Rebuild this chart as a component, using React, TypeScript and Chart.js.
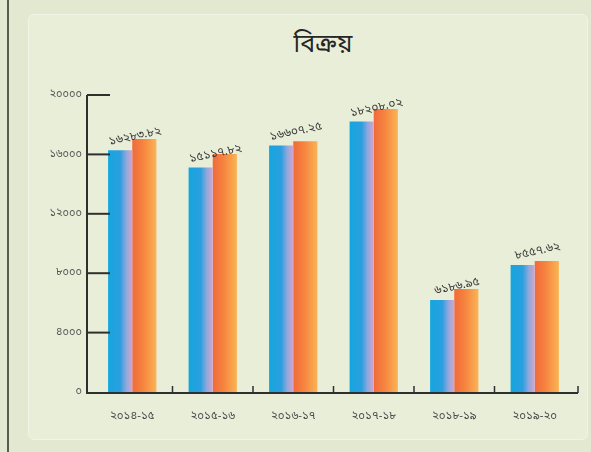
import React, { useEffect, useRef } from "react";
import { Chart, registerables } from "chart.js";

Chart.register(...registerables);

const categories = ["২০১৪-১৫", "২০১৫-১৬", "২০১৬-১৭", "২০১৭-১৮", "২০১৮-১৯", "২০১৯-২০"];
const salesValues = [16283.82, 15117.82, 16607.25, 18208.02, 6186.95, 8557.62];
const accentValues = [17030, 16020, 16890, 19050, 6930, 8820];
const yMax = 20000;
const yStep = 4000;
const titleText = "বিক্রয়";

const bnDigits = "০১২৩৪৫৬৭৮৯";
const toBn = (s: string | number) => String(s).replace(/\d/g, (d) => bnDigits[+d]);

const FONT = "'Noto Sans Bengali', 'Noto Sans', 'Noto Sans CJK SC', sans-serif";
const CAT_PCT = 0.6;

function barGradient(ctx: any, which: number) {
  const chart = ctx.chart;
  const xs = chart.scales.x;
  if (!xs || xs.width === undefined || !chart.chartArea) return which === 0 ? "#1ba3dc" : "#f6823e";
  const c = xs.getPixelForValue(ctx.dataIndex);
  const catW = xs.width / categories.length;
  const half = (catW * CAT_PCT) / 2;
  const x0 = which === 0 ? c - half : c;
  const x1 = which === 0 ? c : c + half;
  const g = chart.ctx.createLinearGradient(x0, 0, x1, 0);
  if (which === 0) {
    g.addColorStop(0, "#14a6de");
    g.addColorStop(0.5, "#2b9fe0");
    g.addColorStop(0.75, "#8fa8dc");
    g.addColorStop(1, "#d2a5cf");
  } else {
    g.addColorStop(0, "#f06a3a");
    g.addColorStop(0.45, "#f6843f");
    g.addColorStop(1, "#fab455");
  }
  return g;
}

const axisPlugin = {
  id: "customAxes",
  afterDatasetsDraw(chart: any) {
    const { ctx, chartArea, scales } = chart;
    const xs = scales.x;
    const ys = scales.y;
    const axisX = chartArea.left - 5;
    const axisY = ys.getPixelForValue(0);
    ctx.save();
    ctx.strokeStyle = "#2f2f2f";
    ctx.lineWidth = 2;
    ctx.beginPath();
    ctx.moveTo(axisX, ys.getPixelForValue(yMax));
    ctx.lineTo(axisX, axisY + 1);
    ctx.lineTo(chartArea.right + 3, axisY + 1);
    ctx.stroke();
    for (let v = yStep; v <= yMax; v += yStep) {
      const py = ys.getPixelForValue(v);
      ctx.beginPath();
      ctx.moveTo(axisX, py);
      ctx.lineTo(axisX + 23, py);
      ctx.stroke();
    }
    ctx.lineWidth = 1.5;
    for (let i = 0; i < categories.length; i++) {
      const a = xs.getPixelForValue(i);
      const b = i + 1 < categories.length ? xs.getPixelForValue(i + 1) : chartArea.right + 3;
      const px = i + 1 < categories.length ? (a + b) / 2 : b;
      ctx.beginPath();
      ctx.moveTo(px, axisY + 1);
      ctx.lineTo(px, axisY - 6);
      ctx.stroke();
    }
    const meta = chart.getDatasetMeta(0);
    ctx.fillStyle = "#3a3a3a";
    ctx.font = `12px ${FONT}`;
    ctx.textAlign = "center";
    ctx.textBaseline = "middle";
    meta.data.forEach((el: any, i: number) => {
      const cx = xs.getPixelForValue(i) + 3;
      const cy = el.y - 13;
      ctx.save();
      ctx.translate(cx, cy);
      ctx.rotate(-0.21);
      ctx.fillText(toBn(salesValues[i].toFixed(2)), 0, 0);
      ctx.restore();
    });
    ctx.restore();
  },
};

export default function App() {
  const ref = useRef<HTMLCanvasElement | null>(null);
  useEffect(() => {
    if (!ref.current) return;
    const chart = new Chart(ref.current, {
      type: "bar",
      data: {
        labels: categories,
        datasets: [
          {
            label: "বিক্রয়",
            data: salesValues,
            backgroundColor: (c: any) => barGradient(c, 0),
            categoryPercentage: CAT_PCT,
            barPercentage: 1,
            borderWidth: 0,
          },
          {
            label: "বিক্রয় ২",
            data: accentValues,
            backgroundColor: (c: any) => barGradient(c, 1),
            categoryPercentage: CAT_PCT,
            barPercentage: 1,
            borderWidth: 0,
          },
        ],
      },
      options: {
        animation: false,
        responsive: false,
        layout: { padding: { top: 95, right: 16, left: 0, bottom: 0 } },
        plugins: {
          legend: { display: false },
          title: { display: false },
          tooltip: { enabled: false },
        },
        scales: {
          x: {
            grid: { display: false, drawTicks: false },
            border: { display: false },
            ticks: {
              color: "#4a4a4a",
              font: { family: FONT, size: 11.5 },
              padding: 18,
              maxRotation: 0,
              autoSkip: false,
            },
            afterFit: (s: any) => {
              s.height = 60;
            },
          },
          y: {
            min: 0,
            max: yMax,
            grid: { display: false, drawTicks: false },
            border: { display: false },
            ticks: {
              stepSize: yStep,
              color: "#555",
              font: { family: FONT, size: 11 },
              padding: 10,
              callback: (v: any) => toBn(v),
            },
            afterFit: (s: any) => {
              s.width = 92;
            },
          },
        },
      },
      plugins: [axisPlugin],
    });
    return () => chart.destroy();
  }, []);

  return (
    <div
      style={{
        position: "absolute",
        left: 0,
        top: 0,
        width: 591,
        height: 452,
        background: "#e3e9d1",
        overflow: "hidden",
      }}
    >
      <div
        style={{
          position: "absolute",
          left: 7,
          top: 0,
          width: 2,
          height: 452,
          background: "#5a5a55",
        }}
      />
      <div
        style={{
          position: "absolute",
          left: 28,
          top: 14,
          width: 558,
          height: 424,
          background: "#e9eed9",
          border: "1px solid #f1f4e6",
          borderRadius: 6,
        }}
      />
      <div
        style={{
          position: "absolute",
          left: 323,
          top: 30,
          transform: "translateX(-50%)",
          fontFamily: FONT,
          fontSize: 25,
          lineHeight: "32px",
          color: "#262626",
          whiteSpace: "nowrap",
        }}
      >
        {titleText}
      </div>
      <canvas
        ref={ref}
        width={591}
        height={452}
        style={{ position: "absolute", left: 0, top: 0, width: 591, height: 452 }}
      />
    </div>
  );
}
